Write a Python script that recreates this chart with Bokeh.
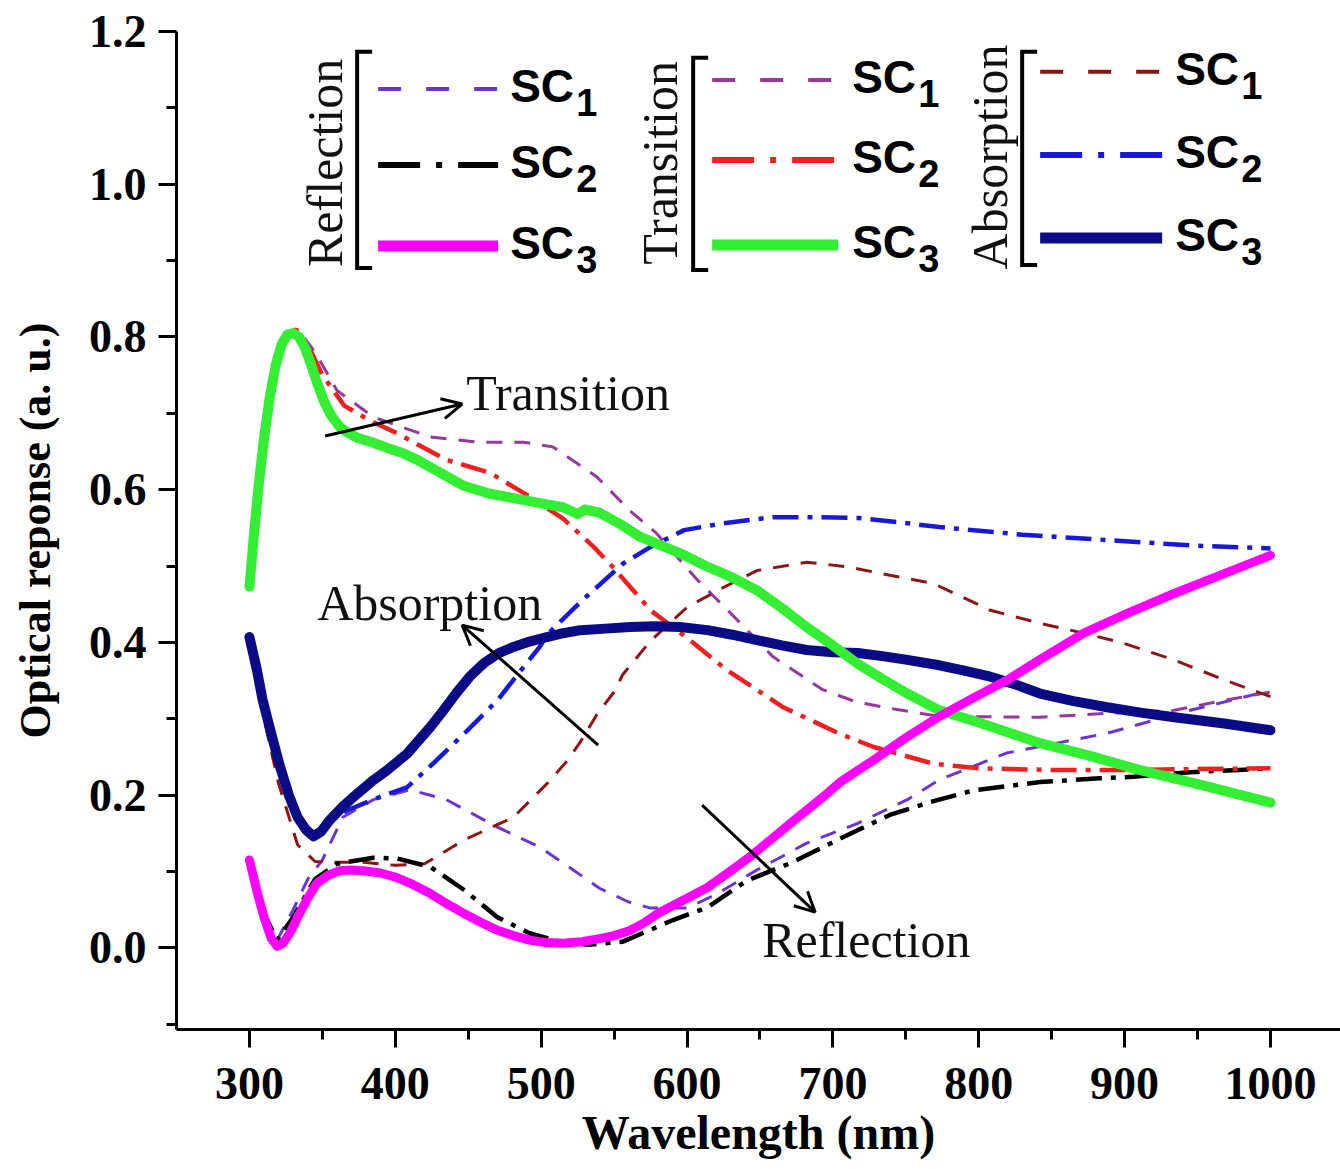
import math
from bokeh.plotting import figure
from bokeh.models import Range1d, FixedTicker, Label, Arrow, OpenHead, PrintfTickFormatter
from bokeh.embed import file_html
from bokeh.resources import INLINE

# ---------------- data ----------------
# Reflection SC1 (violet dashed)
wl_r1 = [300, 310, 319, 330, 340, 350, 364, 385, 410, 435, 470, 499, 522, 540, 560, 575, 600, 620,
         648, 682, 717, 751, 773, 819, 888, 945, 979, 1000]
r1 = [0.115, 0.045, 0.010, 0.050, 0.090, 0.115, 0.171, 0.194, 0.207, 0.194, 0.158, 0.132, 0.102, 0.078,
      0.060, 0.052, 0.052, 0.070, 0.102, 0.137, 0.163, 0.194, 0.220, 0.255, 0.281, 0.311, 0.327, 0.337]
# Reflection SC2 (black dash-dot)
wl_r2 = [300, 310, 319, 330, 345, 360, 385, 401, 424, 447, 470, 492, 515, 533, 556, 590, 614, 641, 671,
         705, 739, 769, 796, 842, 883, 906, 945, 1000]
r2 = [0.115, 0.045, 0.010, 0.040, 0.090, 0.110, 0.118, 0.117, 0.106, 0.076, 0.040, 0.019, 0.007, 0.004,
      0.008, 0.036, 0.053, 0.088, 0.111, 0.143, 0.174, 0.192, 0.206, 0.217, 0.222, 0.224, 0.230, 0.235]
# Reflection SC3 (magenta solid)
wl_r3 = [300, 305, 310, 315, 319, 323, 328, 333, 340, 346, 354, 362, 370, 378, 390, 401, 412, 424, 435,
         447, 458, 470, 481, 492, 503, 515, 528, 540, 550, 560, 570, 580, 590, 600, 614, 628, 643, 657,
         671, 693, 705, 728, 750, 773, 796, 819, 845, 872, 903, 934, 967, 1000]
r3 = [0.115, 0.075, 0.040, 0.012, 0.002, 0.006, 0.020, 0.040, 0.065, 0.084, 0.095, 0.101, 0.102, 0.101,
      0.098, 0.092, 0.083, 0.071, 0.058, 0.045, 0.034, 0.023, 0.016, 0.010, 0.007, 0.006, 0.008, 0.012,
      0.016, 0.022, 0.032, 0.045, 0.055, 0.065, 0.079, 0.098, 0.119, 0.141, 0.163, 0.197, 0.217, 0.246,
      0.275, 0.303, 0.327, 0.350, 0.381, 0.412, 0.439, 0.464, 0.489, 0.514]
# Transition SC1 (purple dashed)
wl_t1 = [300, 305, 310, 316, 323, 333, 345, 360, 385, 424, 458, 488, 508, 538, 561, 579, 607, 630, 659,
         693, 716, 744, 773, 842, 888, 934, 968, 1000]
t1 = [0.470, 0.570, 0.660, 0.745, 0.795, 0.810, 0.780, 0.730, 0.695, 0.669, 0.662, 0.662, 0.656, 0.617,
      0.572, 0.543, 0.482, 0.438, 0.381, 0.338, 0.322, 0.312, 0.303, 0.302, 0.307, 0.311, 0.324, 0.335]
# Transition SC2 (red dash-dot)
wl_t2 = [300, 305, 310, 316, 323, 332, 340, 350, 365, 383, 400, 435, 465, 492, 515, 536, 549, 575, 602,
         627, 666, 705, 728, 769, 800, 850, 900, 1000]
t2 = [0.470, 0.570, 0.660, 0.745, 0.795, 0.810, 0.790, 0.750, 0.710, 0.690, 0.675, 0.639, 0.622, 0.591,
      0.562, 0.525, 0.499, 0.442, 0.403, 0.364, 0.315, 0.280, 0.263, 0.241, 0.235, 0.233, 0.233, 0.235]
# Transition SC3 (green solid)
wl_t3 = [300, 303, 306, 310, 314, 318, 322, 326, 330, 334, 338, 342, 346, 351, 356, 362, 368, 374, 384,
         394, 405, 415, 431, 447, 464, 481, 500, 515, 525, 530, 540, 554, 568, 582, 595, 614, 631, 648,
         665, 682, 700, 717, 734, 751, 773, 800, 842, 875, 910, 955, 1000]
t3 = [0.473, 0.540, 0.600, 0.668, 0.722, 0.763, 0.790, 0.803, 0.805, 0.800, 0.786, 0.765, 0.742, 0.716,
      0.697, 0.682, 0.674, 0.668, 0.662, 0.655, 0.648, 0.639, 0.622, 0.605, 0.595, 0.589, 0.582, 0.577,
      0.568, 0.574, 0.570, 0.555, 0.538, 0.527, 0.517, 0.499, 0.485, 0.468, 0.445, 0.420, 0.396, 0.372,
      0.352, 0.333, 0.311, 0.295, 0.268, 0.252, 0.233, 0.212, 0.190]
# Absorption SC1 (dark red dashed)
wl_a1 = [300, 310, 320, 333, 345, 360, 378, 400, 420, 447, 481, 504, 518, 527, 538, 550, 556, 575, 600,
         625, 648, 682, 710, 739, 769, 808, 842, 872, 899, 934, 968, 1000]
a1 = [0.400, 0.300, 0.215, 0.135, 0.113, 0.112, 0.112, 0.108, 0.110, 0.141, 0.171, 0.215, 0.245, 0.270,
      0.305, 0.335, 0.358, 0.402, 0.446, 0.472, 0.494, 0.505, 0.499, 0.488, 0.477, 0.442, 0.425, 0.412,
      0.399, 0.377, 0.351, 0.329]
# Absorption SC2 (blue dash-dot)
wl_a2 = [300, 310, 321, 333, 344, 355, 367, 390, 408, 428, 447, 470, 488, 499, 504, 527, 556, 575, 598,
         625, 659, 682, 717, 751, 773, 830, 888, 945, 1000]
a2 = [0.405, 0.320, 0.235, 0.170, 0.150, 0.165, 0.180, 0.198, 0.210, 0.245, 0.280, 0.324, 0.368, 0.394,
      0.410, 0.453, 0.503, 0.525, 0.547, 0.556, 0.564, 0.564, 0.563, 0.556, 0.551, 0.541, 0.534, 0.527, 0.523]
# Absorption SC3 (navy solid)
wl_a3 = [300, 305, 309, 315, 321, 327, 333, 339, 344, 349, 355, 364, 374, 384, 394, 408, 424, 433, 442,
         451, 461, 471, 481, 492, 504, 515, 527, 544, 561, 578, 595, 614, 631, 648, 665, 682, 700, 717,
         734, 751, 773, 790, 808, 825, 842, 865, 888, 911, 934, 967, 1000]
a3 = [0.407, 0.365, 0.325, 0.280, 0.237, 0.200, 0.171, 0.154, 0.146, 0.152, 0.167, 0.185, 0.202, 0.218,
      0.232, 0.254, 0.289, 0.311, 0.334, 0.355, 0.373, 0.386, 0.394, 0.401, 0.407, 0.412, 0.416, 0.418,
      0.420, 0.421, 0.420, 0.416, 0.410, 0.403, 0.396, 0.390, 0.387, 0.386, 0.382, 0.377, 0.370, 0.363,
      0.355, 0.345, 0.333, 0.323, 0.315, 0.308, 0.302, 0.294, 0.285]

x_ticks = [300, 400, 500, 600, 700, 800, 900, 1000]
x_minor = [350, 450, 550, 650, 750, 850, 950]
y_ticks = [0.0, 0.2, 0.4, 0.6, 0.8, 1.0, 1.2]
y_minor = [-0.1, 0.1, 0.3, 0.5, 0.7, 0.9, 1.1]

groups = ["Reflection", "Transition", "Absorption"]
sc_labels = ["1", "2", "3"]

# ---------------- styles ----------------
C_R1, C_R2, C_R3 = "#6a35d4", "#000000", "#ff00ff"
C_T1, C_T2, C_T3 = "#96389e", "#ee2020", "#33ee33"
C_A1, C_A2, C_A3 = "#8e1515", "#1818dd", "#0b0b85"
DASH = "16 12"
DASHDOT = "26 9 5 9"
SERIF = "Liberation Serif"
SANS = "Liberation Sans"

X0, X1, Y0, Y1 = 250, 1048, -0.107, 1.2

p = figure(width=1340, height=1169, x_range=Range1d(X0, X1), y_range=Range1d(Y0, Y1),
           output_backend="svg", toolbar_location=None,
           min_border_left=176, min_border_right=0, min_border_top=31, min_border_bottom=140)
p.outline_line_color = None
p.grid.visible = False
p.background_fill_color = "white"
p.border_fill_color = "white"

# helpers: reference pixel -> data position (for annotation placement only)
def PX(px):
    return 300 + (px - 249.3) / 1.4586

def PY(py):
    return (947.6 - py) / 763.3

# axes
for ax in (p.xaxis[0], p.yaxis[0]):
    ax.axis_line_width = 3
    ax.major_tick_line_width = 3
    ax.minor_tick_line_width = 3
    ax.major_tick_in = 0
    ax.minor_tick_in = 0
    ax.major_tick_out = 18
    ax.minor_tick_out = 10
    ax.major_label_text_font = SERIF
    ax.major_label_text_font_style = "bold"
    ax.major_label_text_font_size = "46px"
    ax.major_label_text_color = "black"
    ax.axis_label_text_font = SERIF
    ax.axis_label_text_font_style = "bold"
    ax.axis_label_text_color = "black"

p.xaxis.ticker = FixedTicker(ticks=x_ticks, minor_ticks=x_minor)
p.yaxis.ticker = FixedTicker(ticks=y_ticks, minor_ticks=y_minor)
p.yaxis.formatter = PrintfTickFormatter(format="%.1f")
p.xaxis.major_label_standoff = 20
p.yaxis.major_label_standoff = 12
p.xaxis.axis_label = "Wavelength (nm)"
p.yaxis.axis_label = "Optical reponse (a. u.)"
p.xaxis.axis_label_text_font_size = "48px"
p.yaxis.axis_label_text_font_size = "44px"
p.xaxis.axis_label_standoff = 4
p.yaxis.axis_label_standoff = 26

# ---------------- curves ----------------
p.line(wl_r1, r1, line_color=C_R1, line_width=3, line_dash=DASH)
p.line(wl_t1, t1, line_color=C_T1, line_width=3, line_dash=DASH)
p.line(wl_a1, a1, line_color=C_A1, line_width=3, line_dash=DASH)
p.line(wl_r2, r2, line_color=C_R2, line_width=4.5, line_dash=DASHDOT)
p.line(wl_t2, t2, line_color=C_T2, line_width=4.5, line_dash=DASHDOT)
p.line(wl_a2, a2, line_color=C_A2, line_width=4.5, line_dash=DASHDOT)
p.line(wl_a3, a3, line_color=C_A3, line_width=10, line_join="round", line_cap="round")
p.line(wl_t3, t3, line_color=C_T3, line_width=10, line_join="round", line_cap="round")
p.line(wl_r3, r3, line_color=C_R3, line_width=9, line_join="round", line_cap="round")

# ---------------- in-plot annotations ----------------
arrows = [((325, 436), (462, 404)), ((598, 745), (462, 625)), ((702, 805), (815, 912))]
for (sx, sy), (ex, ey) in arrows:
    p.add_layout(Arrow(end=OpenHead(size=20, line_width=3, line_color="black"),
                       x_start=PX(sx), y_start=PY(sy), x_end=PX(ex), y_end=PY(ey),
                       line_width=3, line_color="black"))

# text label positions (reference pixels; -15 compensates baseline placement)
for txt, (lx, ly) in zip(["Transition", "Absorption", "Reflection"], [(466, 393), (317, 603), (762, 940)]):
    p.add_layout(Label(x=PX(lx), y=PY(ly), text=txt, text_font=SERIF, text_font_size="50px",
                       text_color="#111111", text_baseline="alphabetic", text_align="left"))

# ---------------- custom legend ----------------
legend_styles = [
    [(C_R1, 4, "23 25"), (C_R2, 6, "42 16 6 16"), (C_R3, 11, "solid")],
    [(C_T1, 4, "23 25"), (C_T2, 6, "42 16 6 16"), (C_T3, 11, "solid")],
    [(C_A1, 4, "23 25"), (C_A2, 6, "42 16 6 16"), (C_A3, 11, "solid")],
]
group_label_pos = [(325, 163), (660, 163), (990, 157)]
bracket_pos = [(357, 52, 268), (693, 58, 270), (1022, 52, 265)]
line_x = [(378, 498), (712, 838), (1040, 1162)]
line_y = [(89, 165, 246), (80, 160, 245), (72, 155, 238)]
sc_x = [510, 852, 1175]

for g in range(3):
    gx, gy = group_label_pos[g]
    p.add_layout(Label(x=PX(gx), y=PY(gy), text=groups[g], angle=math.pi / 2,
                       text_font=SERIF, text_font_size="50px", text_color="#111111",
                       text_align="center", text_baseline="middle"))
    bx, by0, by1 = bracket_pos[g]
    p.line([PX(bx + 15), PX(bx), PX(bx), PX(bx + 15)], [PY(by0), PY(by0), PY(by1), PY(by1)],
           line_color="black", line_width=4, line_join="miter")
    lx0, lx1 = line_x[g]
    for k in range(3):
        col, lw, dash = legend_styles[g][k]
        yy = line_y[g][k]
        p.line([PX(lx0), PX(lx1)], [PY(yy), PY(yy)], line_color=col, line_width=lw, line_dash=dash)
        p.add_layout(Label(x=PX(sc_x[g]), y=PY(yy - 3), text="SC", text_font=SANS,
                           text_font_style="bold", text_font_size="46px", text_color="black",
                           text_baseline="alphabetic", text_align="left"))
        p.add_layout(Label(x=PX(sc_x[g] + 66), y=PY(yy + 14), text=sc_labels[k], text_font=SANS,
                           text_font_style="bold", text_font_size="38px", text_color="black",
                           text_baseline="alphabetic", text_align="left"))

open("out.html", "w").write(file_html(p, INLINE))
